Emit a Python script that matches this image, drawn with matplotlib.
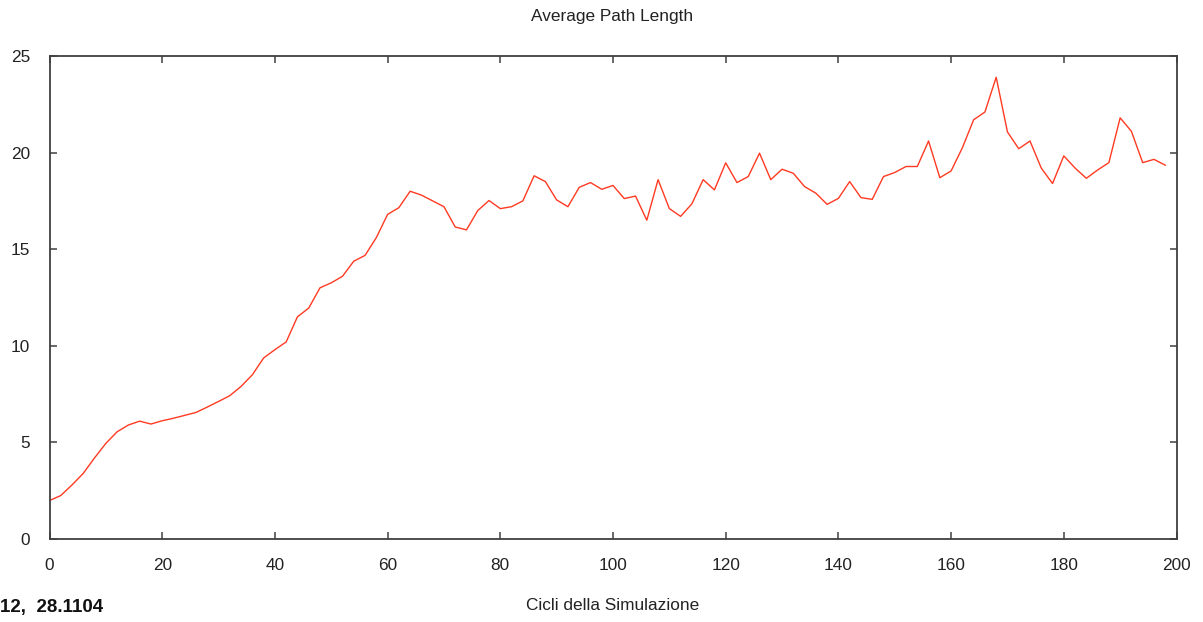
import numpy as np
import matplotlib
matplotlib.use("Agg")
import matplotlib.pyplot as plt

# Simulation cycles (sampled every 2 cycles) and average path length
cycles = list(range(0, 200, 2))
avg_path_length = [
    1.99, 2.25, 2.8, 3.4, 4.2, 4.95, 5.55, 5.9, 6.1, 5.95,
    6.12, 6.25, 6.4, 6.55, 6.83, 7.12, 7.42, 7.9, 8.5, 9.37,
    9.8, 10.2, 11.5, 11.95, 13.0, 13.26, 13.6, 14.38, 14.68, 15.6,
    16.8, 17.15, 18.0, 17.8, 17.5, 17.2, 16.15, 16.0, 17.0, 17.52,
    17.1, 17.2, 17.5, 18.8, 18.5, 17.55, 17.2, 18.2, 18.45, 18.1,
    18.3, 17.62, 17.75, 16.5, 18.6, 17.1, 16.7, 17.35, 18.6, 18.07,
    19.47, 18.45, 18.76, 19.97, 18.6, 19.14, 18.93, 18.24, 17.9, 17.32,
    17.63, 18.5, 17.67, 17.58, 18.76, 18.97, 19.28, 19.28, 20.6, 18.7,
    19.05, 20.25, 21.7, 22.1, 23.9, 21.07, 20.2, 20.6, 19.2, 18.4,
    19.83, 19.2, 18.67, 19.1, 19.48, 21.8, 21.1, 19.48, 19.65, 19.35,
]
x_ticks = [0, 20, 40, 60, 80, 100, 120, 140, 160, 180, 200]
y_ticks = [0, 5, 10, 15, 20, 25]

W, H = 1203, 622
fig = plt.figure(figsize=(W / 100, H / 100), dpi=100)
fig.patch.set_facecolor("white")

left, right, top, bottom = 49.5, 1176.5, 56, 539
ax = fig.add_axes([left / W, 1 - bottom / H, (right - left) / W, (bottom - top) / H])

ax.plot(cycles, avg_path_length, color="#ff3a22", linewidth=1.0)

ax.set_xlim(0, 200)
ax.set_ylim(0, 25)
ax.set_xticks(x_ticks)
ax.set_yticks(y_ticks)

font = "Liberation Sans"
fs = 12.4
for spine in ax.spines.values():
    spine.set_color("#404040")
    spine.set_linewidth(1.3)

ax.tick_params(direction="in", length=5, width=1.1, color="#404040",
               top=True, right=True, labelsize=fs, labelcolor="#222222")
ax.tick_params(axis="x", pad=13.5)
ax.tick_params(axis="y", pad=14)
for lbl in ax.get_xticklabels() + ax.get_yticklabels():
    lbl.set_fontfamily(font)

fig.text(612.5 / W, 1 - 17 / H, "Average Path Length", ha="center", va="center",
         fontsize=fs, family=font, color="#222222")
fig.text(612.5 / W, 1 - 605 / H, "Cicli della Simulazione", ha="center", va="center",
         fontsize=fs, family=font, color="#222222")
fig.text(0 / W, 1 - 607.5 / H, "12,  28.1104", ha="left", va="center",
         fontsize=13.5, family=font, fontweight="bold", color="#111111")

fig.savefig("out.png", dpi=100, facecolor="white")
